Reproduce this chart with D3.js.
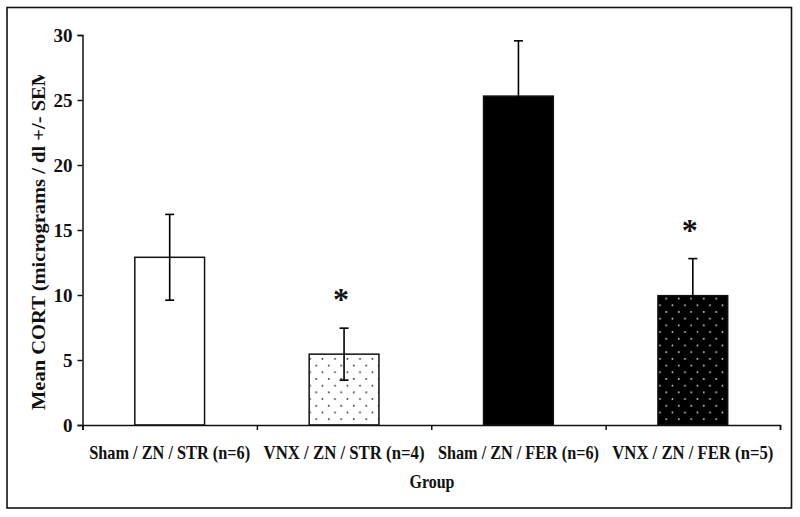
<!DOCTYPE html>
<html><head><meta charset="utf-8">
<script src="https://cdn.jsdelivr.net/npm/d3@7"></script>
<style>body{margin:0;background:#fff}svg{display:block}text{font-family:"Liberation Serif","Times New Roman",serif;font-weight:bold}</style>
</head><body><svg id="c" width="800" height="517"></svg>
<script>
const categories = ["Sham / ZN / STR (n=6)", "VNX / ZN / STR (n=4)", "Sham / ZN / FER (n=6)", "VNX / ZN / FER (n=5)"];
const means = [12.9, 5.45, 25.3, 9.95];
const sems = [3.3, 2.0, 4.25, 2.85];
const significant = [false, true, false, true];
const yTicks = [0, 5, 10, 15, 20, 25, 30];
const fills = ["white", "url(#dotsLight)", "black", "url(#dotsDark)"];

const svg = d3.select("#c");
const L = 82.5, R = 780, T = 35, B = 425;
const x = d3.scaleBand().domain(categories).range([L, R]).paddingInner(0.6).paddingOuter(0.3);
const y = d3.scaleLinear().domain([0, 30]).range([B, T]);

const defs = svg.append("defs");
function dots(id, bg, fg) {
  const p = defs.append("pattern").attr("id", id).attr("patternUnits", "userSpaceOnUse")
    .attr("width", 12.5).attr("height", 13.4).attr("x", 0).attr("y", 0);
  p.append("rect").attr("width", 12.5).attr("height", 13.4).attr("fill", bg);
  p.append("rect").attr("x", 3).attr("y", 3).attr("width", 1.5).attr("height", 1.5).attr("fill", fg);
  p.append("rect").attr("x", 9.25).attr("y", 9.7).attr("width", 1.5).attr("height", 1.5).attr("fill", fg);
}
dots("dotsLight", "white", "#111");
dots("dotsDark", "black", "#f4f4f4");
defs.append("clipPath").attr("id", "ytclip").append("rect").attr("x", 0).attr("y", 75).attr("width", 80).attr("height", 400);

// outer frame
svg.append("rect").attr("x", 7).attr("y", 7.5).attr("width", 784.5).attr("height", 500.5)
  .attr("fill", "none").attr("stroke", "#111").attr("stroke-width", 1.6);

// bars
const data = categories.map((c, i) => ({c, m: means[i], s: sems[i], sig: significant[i], f: fills[i]}));
svg.append("g").selectAll("rect").data(data).join("rect")
  .attr("x", d => x(d.c)).attr("width", x.bandwidth())
  .attr("y", d => y(d.m)).attr("height", d => y(0) - y(d.m))
  .attr("fill", d => d.f).attr("stroke", "#111").attr("stroke-width", 1.5);

// error bars
const eb = svg.append("g").attr("stroke", "#000").attr("stroke-width", 1.6);
data.forEach(d => {
  const cx = x(d.c) + x.bandwidth() / 2;
  eb.append("line").attr("x1", cx).attr("x2", cx).attr("y1", y(d.m - d.s)).attr("y2", y(d.m + d.s));
  eb.append("line").attr("x1", cx - 4.5).attr("x2", cx + 4.5).attr("y1", y(d.m + d.s)).attr("y2", y(d.m + d.s));
  eb.append("line").attr("x1", cx - 4.5).attr("x2", cx + 4.5).attr("y1", y(d.m - d.s)).attr("y2", y(d.m - d.s));
});

// asterisks
svg.append("g").selectAll("text").data(data.filter(d => d.sig)).join("text")
  .attr("x", d => x(d.c) + x.bandwidth() / 2 - 3).attr("y", d => y(d.m + d.s) - 18)
  .attr("text-anchor", "middle").attr("font-size", 32).attr("fill", "#111").text("*");

// y axis
const ya = svg.append("g").attr("transform", `translate(${L},0)`)
  .call(d3.axisLeft(y).tickValues(yTicks).tickSize(5).tickPadding(5).tickFormat(d3.format("d")));
ya.select(".domain").attr("stroke", "#111").attr("stroke-width", 1.5);
ya.selectAll(".tick line").attr("stroke", "#111").attr("stroke-width", 1.5);
ya.selectAll(".tick text").attr("font-size", 19).attr("fill", "#111")
  .attr("font-family", "'Liberation Serif', serif").attr("font-weight", "bold");

// x axis (ticks at group boundaries)
const xScaleEdges = d3.scaleLinear().domain([0, categories.length]).range([L, R]);
const xa = svg.append("g").attr("transform", `translate(0,${B})`)
  .call(d3.axisBottom(xScaleEdges).tickValues(d3.range(categories.length + 1)).tickSize(5).tickFormat(""));
xa.select(".domain").attr("stroke", "#111").attr("stroke-width", 1.5);
xa.selectAll(".tick line").attr("stroke", "#111").attr("stroke-width", 1.5);

// category labels
svg.append("g").selectAll("text").data(categories).join("text")
  .attr("x", d => x(d) + x.bandwidth() / 2).attr("y", 459)
  .attr("text-anchor", "middle").attr("font-size", 19).attr("fill", "#111")
  .attr("textLength", 161).attr("lengthAdjust", "spacingAndGlyphs").text(d => d);

// axis titles
svg.append("text").attr("x", 432).attr("y", 488).attr("text-anchor", "middle")
  .attr("font-size", 19).attr("fill", "#111").attr("textLength", 45).attr("lengthAdjust", "spacingAndGlyphs").text("Group");
svg.append("g").attr("clip-path", "url(#ytclip)").append("text")
  .attr("transform", "translate(45,410) rotate(-90)").attr("text-anchor", "start")
  .attr("font-size", 19).attr("fill", "#111").attr("textLength", 350).attr("lengthAdjust", "spacingAndGlyphs")
  .text("Mean CORT (micrograms / dl +/- SEM)");
</script></body></html>
